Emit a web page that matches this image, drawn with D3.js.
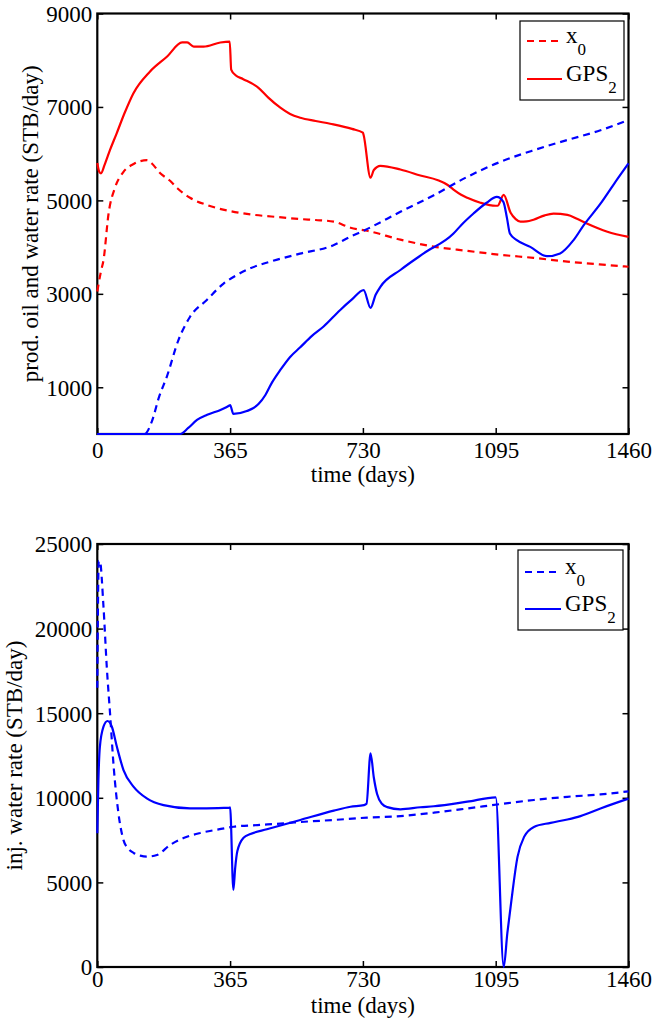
<!DOCTYPE html>
<html><head><meta charset="utf-8">
<script src="https://cdn.jsdelivr.net/npm/d3@7"></script>
<style>
html,body{margin:0;padding:0;background:#fff;}
svg{display:block;font-family:"Liberation Serif","Times New Roman",serif;}
</style></head>
<body><svg id="c" width="654" height="1023"></svg>
<script>
// ---------- DATA ----------
const xTicks = [0, 365, 730, 1095, 1460];
const topYTicks = [1000, 3000, 5000, 7000, 9000];
const botYTicks = [0, 5000, 10000, 15000, 20000, 25000];
const legendLabels = [["x", "0"], ["GPS", "2"]];

// top: produced oil (red) and water (blue)
const oilX0Days = [0,3,10,17,31,49,71,100,118,137,150,173,200,220,256,302,365,421,500,558,600,650,696,742,833,925,1017,1108,1199,1292,1380,1460];
const oilX0 =     [3050,3190,3480,3720,4720,5280,5600,5780,5840,5860,5790,5580,5420,5260,5050,4900,4770,4700,4640,4600,4580,4545,4415,4350,4160,4010,3920,3835,3770,3690,3630,3580];

const oilGPSDays = [0,5,10,20,35,53,75,99,145,192,233,247,265,292,338,364,368,380,400,443,470,503,530,558,600,640,700,730,732,751,760,778,833,880,962,979,1000,1017,1053,1095,1100,1117,1136,1150,1163,1180,1199,1230,1254,1292,1320,1347,1402,1460];
const oilGPS =     [5800,5620,5580,5760,6080,6430,6870,7290,7760,8080,8380,8380,8290,8290,8380,8400,7800,7680,7600,7410,7200,6985,6850,6770,6700,6640,6530,6450,6400,5485,5650,5740,5660,5550,5335,5230,5120,5055,4950,4885,4885,5120,4735,4600,4545,4550,4585,4680,4715,4690,4600,4500,4330,4220];

const watX0Days = [0,130,150,170,191,223,255,301,347,383,420,480,557,649,695,741,833,925,1016,1108,1200,1291,1383,1460];
const watX0 =     [0,0,270,800,1225,2010,2510,2870,3220,3400,3545,3700,3860,4040,4220,4385,4755,5110,5500,5825,6075,6290,6500,6720];

const watGPSDays = [0,228,250,274,302,340,363,365,374,411,443,462,480,503,530,557,590,622,667,700,732,751,765,778,833,897,979,1000,1034,1070,1098,1116,1126,1134,1153,1190,1236,1272,1309,1337,1383,1420,1460];
const watGPS =     [0,0,130,300,410,520,610,620,430,490,640,835,1100,1370,1650,1850,2100,2300,2650,2880,3080,2700,2980,3150,3510,3865,4290,4470,4720,4950,5075,4970,4620,4290,4150,4005,3805,3865,4150,4470,4930,5350,5790];

// bottom: injected water (blue)
const injX0Days = [0,4,7,17,26,35,45,58,72,85,100,118,136,164,200,237,283,330,375,450,512,580,650,742,833,925,1017,1108,1200,1292,1383,1460];
const injX0 =     [16500,24000,24000,21290,17750,15000,11840,9100,7500,7000,6740,6580,6520,6620,7210,7620,7920,8120,8290,8400,8490,8600,8690,8830,8920,9120,9370,9630,9870,10060,10200,10380];

const injGPSDays = [0,3,7,17,28,40,54,72,100,136,182,255,300,364,365,374,379,385,402,421,466,558,650,696,733,740,751,760,769,783,797,833,888,925,1017,1095,1117,1127,1136,1155,1173,1200,1246,1292,1328,1383,1460];
const injGPS =     [7900,11000,13000,14200,14540,14200,13000,11640,10650,9970,9570,9380,9380,9420,9440,4550,5860,6850,7640,7860,8140,8690,9240,9470,9570,9650,12630,11200,10220,9630,9450,9320,9440,9500,9770,10030,0,2000,3560,6510,7690,8280,8520,8720,8920,9370,9950];

// ---------- DRAW ----------
const svg = d3.select("#c");
const FS = 23;
const RED = "#ff0000", BLUE = "#0000ff";
const X0 = 97.3, X1 = 628.5;
const x = d3.scaleLinear().domain([0,1460]).range([X0, X1]);

function panel(opts) {
  const y = d3.scaleLinear().domain(opts.yDomain).range([opts.yBottom, opts.yTop]);
  const g = svg.append("g");
  const clipId = "clip" + opts.id;
  svg.append("clipPath").attr("id", clipId).append("rect")
    .attr("x", X0 - 2).attr("y", opts.yTop - 2).attr("width", X1 - X0 + 4).attr("height", opts.yBottom - opts.yTop + 4);

  // axes with inward ticks
  const tl = 6;
  const axB = g.append("g").attr("transform", `translate(0,${opts.yBottom})`)
    .call(d3.axisBottom(x).tickValues(xTicks).tickSize(-tl).tickFormat(d3.format("d")));
  axB.selectAll("text").attr("y", opts.xLabelBase - opts.yBottom).attr("dy", null)
    .attr("font-size", FS).attr("font-family", "Liberation Serif").attr("fill","#000");
  const axT = g.append("g").attr("transform", `translate(0,${opts.yTop})`)
    .call(d3.axisTop(x).tickValues(xTicks).tickSize(-tl).tickFormat(""));
  const axL = g.append("g").attr("transform", `translate(${X0},0)`)
    .call(d3.axisLeft(y).tickValues(opts.yTicks).tickSize(-tl).tickFormat(d3.format("d")));
  axL.selectAll("text").attr("x", -5).attr("dy", "0.34em")
    .attr("font-size", FS).attr("font-family", "Liberation Serif").attr("fill","#000");
  const axR = g.append("g").attr("transform", `translate(${X1},0)`)
    .call(d3.axisRight(y).tickValues(opts.yTicks).tickSize(-tl).tickFormat(""));
  [axB, axT, axL, axR].forEach(a => {
    a.select(".domain").remove();
    a.selectAll("line").attr("stroke","#000").attr("stroke-width", 1.5);
  });
  // frame
  g.append("rect").attr("x", X0).attr("y", opts.yTop).attr("width", X1 - X0).attr("height", opts.yBottom - opts.yTop)
    .attr("fill","none").attr("stroke","#000").attr("stroke-width", 2.2);

  // data lines (drawn over the frame, as in the reference)
  const lineGen = (xs, ys) => d3.line().curve(d3.curveMonotoneX)
      .x((d,i) => x(xs[i])).y((d,i) => y(ys[i]))(ys);
  const lg = g.append("g").attr("clip-path", `url(#${clipId})`);
  opts.series.forEach(s => {
    lg.append("path").attr("d", lineGen(s.xs, s.ys))
      .attr("fill","none").attr("stroke", s.color).attr("stroke-width", 2.2)
      .attr("stroke-dasharray", s.dash ? "7,5" : null)
      .attr("stroke-linejoin","round");
  });

  // axis titles
  g.append("text").attr("x", (X0 + X1) / 2).attr("y", opts.xTitleBase)
    .attr("text-anchor","middle").attr("font-size", FS).text("time (days)");
  g.append("text").attr("transform", `translate(${opts.yTitleX},${(opts.yTop + opts.yBottom) / 2}) rotate(-90)`)
    .attr("text-anchor","middle").attr("font-size", FS).text(opts.yTitle);

  // legend
  const L = opts.legend;
  g.append("rect").attr("x", L.x).attr("y", L.y).attr("width", L.w).attr("height", L.h)
    .attr("fill","#fff").attr("stroke","#000").attr("stroke-width", 1.2);
  L.items.forEach((s, i) => {
    const ry = L.rows[i];
    g.append("line").attr("x1", L.lx1).attr("x2", L.lx2).attr("y1", ry).attr("y2", ry)
      .attr("stroke", s.color).attr("stroke-width", 2.2).attr("stroke-dasharray", s.dash ? "7,5" : null);
    const t = g.append("text").attr("x", L.tx).attr("y", ry + 2).attr("font-size", FS);
    t.append("tspan").text(legendLabels[i][0]);
    t.append("tspan").attr("dy", 12).attr("font-size", 17).text(legendLabels[i][1]);
  });
}

panel({
  id: "top", yDomain: [0, 9000], yTop: 13.5, yBottom: 434, yTicks: topYTicks,
  xLabelBase: 458, xTitleBase: 482, yTitleX: 38,
  yTitle: "prod. oil and water rate (STB/day)",
  series: [
    {xs: oilX0Days, ys: oilX0, color: RED, dash: true},
    {xs: oilGPSDays, ys: oilGPS, color: RED, dash: false},
    {xs: watX0Days, ys: watX0, color: BLUE, dash: true},
    {xs: watGPSDays, ys: watGPS, color: BLUE, dash: false}
  ],
  legend: {x: 520, y: 21, w: 104, h: 79, rows: [41, 79], lx1: 527, lx2: 562, tx: 566,
           items: [{color: RED, dash: true}, {color: RED, dash: false}]}
});

panel({
  id: "bot", yDomain: [0, 25000], yTop: 544, yBottom: 967, yTicks: botYTicks,
  xLabelBase: 987, xTitleBase: 1013, yTitleX: 22,
  yTitle: "inj. water rate (STB/day)",
  series: [
    {xs: injX0Days, ys: injX0, color: BLUE, dash: true},
    {xs: injGPSDays, ys: injGPS, color: BLUE, dash: false}
  ],
  legend: {x: 518, y: 550, w: 105, h: 80, rows: [572, 609], lx1: 525, lx2: 561, tx: 565,
           items: [{color: BLUE, dash: true}, {color: BLUE, dash: false}]}
});
</script></body></html>
